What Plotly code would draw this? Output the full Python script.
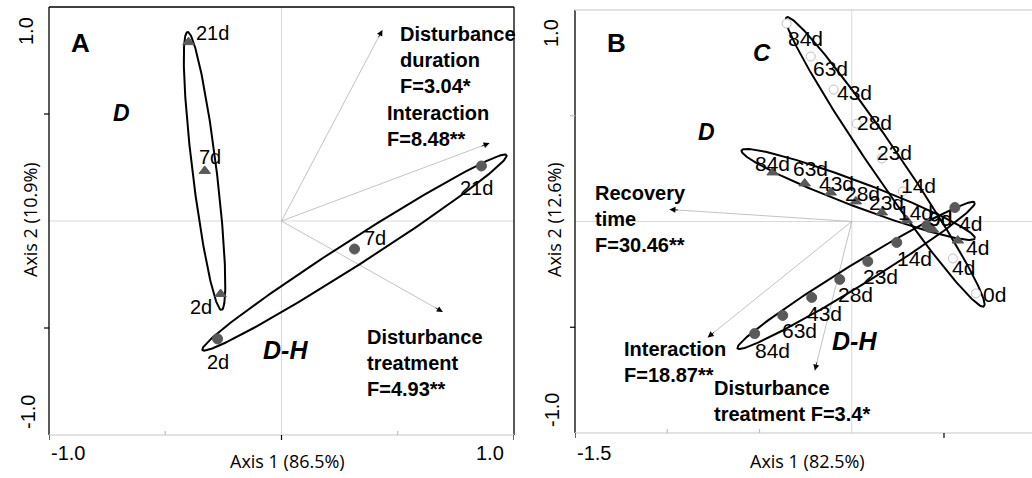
import numpy as np
import plotly.graph_objects as go

W, H = 1032, 478

# ---------------- data: panel A ----------------
a_d_days = ["21d", "7d", "2d"]
a_d_x = [-0.40, -0.33, -0.262]
a_d_y = [0.836, 0.234, -0.341]

a_dh_days = ["21d", "7d", "2d"]
a_dh_x = [0.86, 0.314, -0.275]
a_dh_y = [0.257, -0.131, -0.551]

a_vec_names = ["Disturbance<br>duration<br>F=3.04*", "Interaction<br>F=8.48**",
               "Disturbance<br>treatment<br>F=4.93**"]
a_vec_x = [0.434, 0.895, 0.694]
a_vec_y = [0.893, 0.364, -0.425]

a_ell_names = ["D", "D-H"]
a_ell_tip1 = [(-0.404, 0.883), (-0.340, -0.603)]
a_ell_tip2 = [(-0.258, -0.416), (0.968, 0.308)]
a_ell_ratio = [0.086, 0.07]

# ---------------- data: panel B ----------------
b_c_days = ["84d", "63d", "43d", "28d", "23d", "14d", "4d", "0d"]
b_c_x = [-0.353, -0.222, -0.098, 0.027, 0.163, 0.277, 0.548, 0.673]
b_c_y = [0.936, 0.780, 0.624, 0.463, 0.298, 0.142, -0.175, -0.340]

b_d_days = ["84d", "63d", "43d", "28d", "23d", "14d", "9d", "4d"]
b_d_x = [-0.429, -0.255, -0.114, 0.022, 0.163, 0.298, 0.440, 0.575]
b_d_y = [0.232, 0.180, 0.137, 0.095, 0.043, 0.005, -0.038, -0.090]

b_dh_days = ["84d", "63d", "43d", "28d", "23d", "14d", "9d", "4d"]
b_dh_x = [-0.526, -0.374, -0.217, -0.065, 0.087, 0.244, 0.407, 0.559]
b_dh_y = [-0.530, -0.444, -0.359, -0.274, -0.189, -0.099, -0.019, 0.066]

b_vec_names = ["Recovery<br>time<br>F=30.46**", "Interaction<br>F=18.87**",
               "Disturbance<br>treatment F=3.4*"]
b_vec_x = [-0.988, -0.781, -0.200]
b_vec_y = [0.057, -0.548, -0.705]

b_ell_names = ["C", "D", "D-H"]
b_ell_tip1 = [(-0.353, 0.965), (-0.597, 0.336), (-0.619, -0.600)]
b_ell_tip2 = [(0.716, -0.402), (0.667, -0.080), (0.667, 0.090)]
b_ell_ratio = [0.085, 0.10, 0.08]

# ---------------- layout geometry / styles ----------------
A_XDOM = [49 / W, 514 / W]
A_YDOM = [(H - 435) / H, (H - 7) / H]
B_XDOM = [575 / W, 1.0]
B_YDOM = [(H - 433) / H, (H - 10) / H]
A_XR = [-1, 1]
A_YR = [-1, 1]
B_XR = [-1.5, 0.977]
B_YR = [-1, 1]

FONT = "Liberation Sans, Arial, sans-serif"
MARK = "#595959"
GRID = "#d9d9d9"

# label offsets (pixels, dx right, dy down)
a_d_off = [(24, -9), (5, -14), (-20, 13)]
a_dh_off = [(-5, 22), (20, -11), (0, 23)]
b_c_off = [(19, 15), (20, 12), (21, 3), (18, -1), (13, -6), (16, -6), (11, 9), (19, 1)]
b_d_off = [(0, -9), (6, -15), (6, -9), (7, -8), (5, -10), (9, -8), (8, -11), (20, 7)]
b_dh_off = [(18, 17), (17, 15), (13, 16), (16, 15), (13, 15), (18, 16), (14, -7), (16, 16)]


def px_scale(xdom, ydom, xr, yr):
    sx = (xdom[1] - xdom[0]) * W / (xr[1] - xr[0])
    sy = (ydom[1] - ydom[0]) * H / (yr[1] - yr[0])
    return sx, sy


def ellipse(p1, p2, ratio, sx, sy, n=240):
    x1, y1 = p1[0] * sx, p1[1] * sy
    x2, y2 = p2[0] * sx, p2[1] * sy
    cx, cy = (x1 + x2) / 2, (y1 + y2) / 2
    a = np.hypot(x2 - x1, y2 - y1) / 2
    b = a * ratio
    th = np.arctan2(y2 - y1, x2 - x1)
    t = np.linspace(0, 2 * np.pi, n)
    ex = cx + a * np.cos(t) * np.cos(th) - b * np.sin(t) * np.sin(th)
    ey = cy + a * np.cos(t) * np.sin(th) + b * np.sin(t) * np.cos(th)
    return ex / sx, ey / sy


fig = go.Figure()
annotations = []
shapes = []

panels = [
    dict(xa="x", ya="y", xdom=A_XDOM, ydom=A_YDOM, xr=A_XR, yr=A_YR,
         tip1=a_ell_tip1, tip2=a_ell_tip2, ratio=a_ell_ratio,
         vx=a_vec_x, vy=a_vec_y),
    dict(xa="x2", ya="y2", xdom=B_XDOM, ydom=B_YDOM, xr=B_XR, yr=B_YR,
         tip1=b_ell_tip1, tip2=b_ell_tip2, ratio=b_ell_ratio,
         vx=b_vec_x, vy=b_vec_y),
]

for p in panels:
    sx, sy = px_scale(p["xdom"], p["ydom"], p["xr"], p["yr"])
    # centre lines
    shapes.append(dict(type="line", xref=p["xa"], yref=p["ya"] + " domain", x0=0, x1=0, y0=0, y1=1,
                       line=dict(color=GRID, width=1), layer="below"))
    shapes.append(dict(type="line", xref=p["xa"] + " domain", yref=p["ya"], x0=0, x1=1, y0=0, y1=0,
                       line=dict(color=GRID, width=1), layer="below"))
    # vectors
    for vx, vy in zip(p["vx"], p["vy"]):
        fig.add_trace(go.Scatter(x=[0, vx], y=[0, vy], mode="lines", xaxis=p["xa"], yaxis=p["ya"],
                                 line=dict(color="#b3b3b3", width=0.8), hoverinfo="skip",
                                 showlegend=False))
        L = np.hypot(vx * sx, vy * sy)
        annotations.append(dict(x=vx, y=vy, ax=vx - vx * 10 / L, ay=vy - vy * 10 / L,
                                xref=p["xa"], yref=p["ya"], axref=p["xa"], ayref=p["ya"],
                                showarrow=True, arrowhead=2, arrowsize=1.5, arrowwidth=0.8,
                                arrowcolor="black", text="", standoff=0))
    # ellipses
    for t1, t2, r in zip(p["tip1"], p["tip2"], p["ratio"]):
        ex, ey = ellipse(t1, t2, r, sx, sy)
        fig.add_trace(go.Scatter(x=ex, y=ey, mode="lines", xaxis=p["xa"], yaxis=p["ya"],
                                 line=dict(color="black", width=2), hoverinfo="skip",
                                 showlegend=False))


# markers
def add_markers(xs, ys, xa, ya, symbol, color, size, line_color=None):
    fig.add_trace(go.Scatter(x=xs, y=ys, mode="markers", xaxis=xa, yaxis=ya,
                             marker=dict(symbol=symbol, color=color, size=size,
                                         line=dict(color=line_color or color, width=1)),
                             showlegend=False, cliponaxis=False))


add_markers(a_d_x, a_d_y, "x", "y", "triangle-up", MARK, 10)
add_markers(a_dh_x, a_dh_y, "x", "y", "circle", MARK, 10)
add_markers(b_c_x, b_c_y, "x2", "y2", "circle", "white", 9, "#bfbfbf")
add_markers(b_d_x, b_d_y, "x2", "y2", "triangle-up", MARK, 10)
add_markers(b_dh_x, b_dh_y, "x2", "y2", "circle", MARK, 10)


def add_labels(xs, ys, labels, offs, xa, ya, size):
    for x, y, t, (dx, dy) in zip(xs, ys, labels, offs):
        annotations.append(dict(x=x, y=y, xref=xa, yref=ya, text=t, showarrow=False,
                                xshift=dx, yshift=-dy, xanchor="center", yanchor="middle",
                                font=dict(family=FONT, size=size, color="black")))


add_labels(a_d_x, a_d_y, a_d_days, a_d_off, "x", "y", 20)
add_labels(a_dh_x, a_dh_y, a_dh_days, a_dh_off, "x", "y", 20)
add_labels(b_c_x, b_c_y, b_c_days, b_c_off, "x2", "y2", 21)
add_labels(b_d_x, b_d_y, b_d_days, b_d_off, "x2", "y2", 21)
add_labels(b_dh_x, b_dh_y, b_dh_days, b_dh_off, "x2", "y2", 21)


def txt(text, x, y, xa, ya, size, xanchor="center", yanchor="middle", angle=0, family=FONT,
        xshift=0, yshift=0, align="left"):
    annotations.append(dict(x=x, y=y, xref=xa, yref=ya, text=text, showarrow=False,
                            xanchor=xanchor, yanchor=yanchor, textangle=angle, align=align,
                            xshift=xshift, yshift=yshift,
                            font=dict(family=family, size=size, color="black")))


# vector captions
a_cap_pos = [(0.499, 0.935), (0.447, 0.565), (0.361, -0.481)]
for name, (x, y) in zip(a_vec_names, a_cap_pos):
    txt("<b>" + name + "</b>", x, y, "x", "y", 20, "left", "top")
b_cap_pos = [(-1.405, 0.194), (-1.243, -0.539), (-0.760, -0.728)]
for name, (x, y) in zip(b_vec_names, b_cap_pos):
    txt("<b>" + name + "</b>", x, y, "x2", "y2", 20, "left", "top")

# panel letters & group names
txt("<b>A</b>", -0.865, 0.832, "x", "y", 26)
txt("<b><i>D</i></b>", -0.688, 0.505, "x", "y", 23)
txt("<b><i>D-H</i></b>", 0.017, -0.603, "x", "y", 25)
txt("<b>B</b>", -1.275, 0.846, "x2", "y2", 26)
txt("<b><i>C</i></b>", -0.488, 0.799, "x2", "y2", 24)
txt("<b><i>D</i></b>", -0.787, 0.421, "x2", "y2", 23)
txt("<b><i>D-H</i></b>", 0.016, -0.563, "x2", "y2", 25)

# tick labels
TL = 20
txt("1.0", 26 / W, 1.0, "paper", "y", TL, "center", "top", -90, yshift=-8)
txt("-1.0", 28 / W, -1.0, "paper", "y", TL, "center", "bottom", -90, yshift=4)
txt("-1.0", -1.0, (H - 453) / H, "x", "paper", TL, "left", "middle")
txt("1.0", 1.0, (H - 453) / H, "x", "paper", TL, "right", "middle", xshift=-8)
txt("1.0", 551 / W, 1.0, "paper", "y2", TL, "center", "top", -90, yshift=-7)
txt("-1.0", 552 / W, -1.0, "paper", "y2", TL, "center", "bottom", -90, yshift=4)
txt("-1.5", -1.5, (H - 453) / H, "x2", "paper", TL, "left", "middle")
txt("1.0", 1.0, (H - 455) / H, "x2", "paper", TL, "right", "middle", xshift=-8)

# axis titles
TF = "Open Sans, sans-serif"
txt("Axis 1 (86.5%)", 287 / W, (H - 461) / H, "paper", "paper", 18, family=TF)
txt("Axis 2 (10.9%)", 30 / W, (H - 220) / H, "paper", "paper", 18, angle=-90, family=TF)
txt("Axis 1 (82.5%)", 807 / W, (H - 461) / H, "paper", "paper", 18, family=TF)
txt("Axis 2 (12.6%)", 554 / W, (H - 220) / H, "paper", "paper", 18, angle=-90, family=TF)

# frame lines
BLK = dict(color="black", width=1.3)
GRY = dict(color=GRID, width=1.3)
shapes += [
    # panel A
    dict(type="line", xref="x domain", yref="y domain", x0=0, x1=0, y0=0, y1=1, line=BLK),
    dict(type="line", xref="x domain", yref="y domain", x0=0, x1=1, y0=1, y1=1, line=BLK),
    dict(type="line", xref="x domain", yref="y domain", x0=1, x1=1, y0=0, y1=1, line=BLK),
    dict(type="line", xref="x domain", yref="y domain", x0=0, x1=1, y0=0, y1=0, line=GRY),
    # panel B
    dict(type="line", xref="x2 domain", yref="y2 domain", x0=0, x1=0, y0=0, y1=1, line=BLK),
    dict(type="line", xref="x2 domain", yref="y2 domain", x0=0, x1=1, y0=1, y1=1, line=GRY),
    dict(type="line", xref="x2 domain", yref="y2 domain", x0=0, x1=1, y0=0, y1=0, line=GRY),
]


def xtick(xa, ya, xv, up, color):
    shapes.append(dict(type="line", xref=xa, yref=ya + " domain", ysizemode="pixel", yanchor=0,
                       x0=xv, x1=xv, y0=0, y1=(4 if up else -5), line=dict(color=color, width=1.2)))


def ytick(xa, ya, yv, color):
    shapes.append(dict(type="line", xref=xa + " domain", yref=ya, xsizemode="pixel", xanchor=0,
                       x0=0, x1=-5, y0=yv, y1=yv, line=dict(color=color, width=1.2)))


xtick("x", "y", 0, False, "black")
xtick("x", "y", 1.0, False, "black")
xtick("x", "y", -0.5, True, "#bfbfbf")
xtick("x", "y", 0.5, True, "#bfbfbf")
xtick("x", "y", -1.0, False, "black")
ytick("x", "y", 0.5, "black")
ytick("x", "y", -0.5, "black")
xtick("x2", "y2", 0.5, False, "black")
xtick("x2", "y2", -1.0, True, "#bfbfbf")
xtick("x2", "y2", -0.5, True, "#bfbfbf")
xtick("x2", "y2", -1.5, False, "black")
ytick("x2", "y2", 0.5, "#bfbfbf")
ytick("x2", "y2", -0.5, "black")

ax_common = dict(showgrid=False, zeroline=False, showticklabels=False, ticks="",
                 showline=False, fixedrange=True)
fig.update_layout(
    width=W, height=H, margin=dict(l=0, r=0, t=0, b=0),
    paper_bgcolor="white", plot_bgcolor="white", showlegend=False,
    xaxis=dict(domain=A_XDOM, range=A_XR, **ax_common),
    yaxis=dict(domain=A_YDOM, range=A_YR, **ax_common),
    xaxis2=dict(domain=B_XDOM, range=B_XR, anchor="y2", **ax_common),
    yaxis2=dict(domain=B_YDOM, range=B_YR, anchor="x2", **ax_common),
    annotations=annotations, shapes=shapes,
)

fig.write_html("out.html", config={"displayModeBar": False},
               post_script="document.body.style.margin='0';document.body.style.overflow='hidden';")
